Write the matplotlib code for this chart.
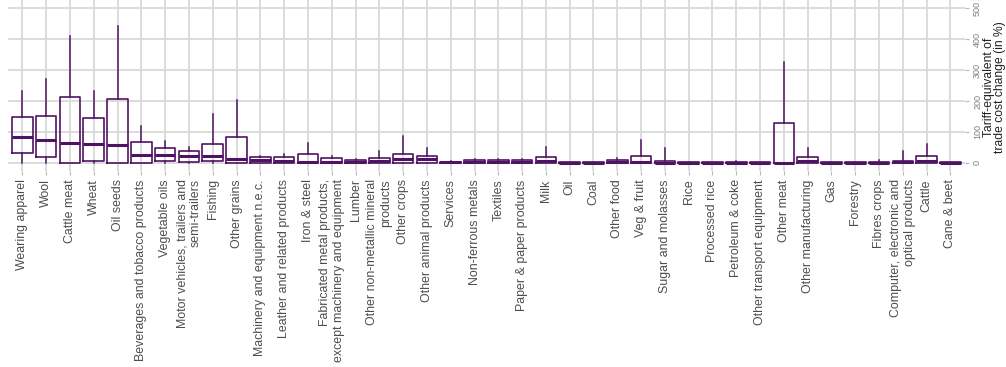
import matplotlib
matplotlib.use('agg')
import matplotlib.pyplot as plt
import numpy as np

plt.rcParams['font.family'] = ['Liberation Sans', 'DejaVu Sans']

sectors = ['Wearing apparel', 'Wool', 'Cattle meat', 'Wheat', 'Oil seeds',
           'Beverages and tobacco products', 'Vegetable oils',
           'Motor vehicles, trailers and\nsemi-trailers', 'Fishing', 'Other grains',
           'Machinery and equipment n.e.c.', 'Leather and related products',
           'Iron & steel',
           'Fabricated metal products,\nexcept machinery and equipment',
           'Lumber', 'Other non-metallic mineral\nproducts', 'Other crops',
           'Other animal products', 'Services', 'Non-ferrous metals', 'Textiles',
           'Paper & paper products', 'Milk', 'Oil', 'Coal', 'Other food',
           'Veg & fruit', 'Sugar and molasses', 'Rice', 'Processed rice',
           'Petroleum & coke', 'Other transport equipment', 'Other meat',
           'Other manufacturing', 'Gas', 'Forestry', 'Fibres crops',
           'Computer, electronic and\noptical products', 'Cattle', 'Cane & beet']

# box stats (in %)
w_low = [0, 0, 0, 0, 0, 0, 0, 0, 0, 0,
         0, 0, 0, 0, 0, 0, 0, 0, 0, 0,
         0, 0, 0, 0, 0, 0, 0, 0, 0, 0,
         0, 0, 0, 0, 0, 0, 0, 0, 0, 0]
q1 = [31, 20, 0, 5, 0, 0, 7, 4, 6, 0,
      1, 0, 0, 0, 0, 0, 0, 0, 0, 0,
      0, 0, 0, 0, 0, 0, 0, 0, 0, 0,
      0, 0, 0, 0, 0, 0, 0, 0, 0, 0]
med = [85, 74, 63, 61, 59, 26, 26, 23, 22, 14,
       10, 6, 4, 4, 3, 7, 12, 12, 2, 3,
       3, 3, 7, 1, 1, 3, 4, 1, 1, 1,
       1, 1, 1, 6, 1, 1, 1, 2, 5, 1]
q3 = [147, 153, 214, 146, 207, 68, 49, 40, 62, 85,
      18, 20, 28, 15, 9, 17, 29, 24, 4, 9,
      8, 8, 18, 3, 2, 8, 22, 5, 3, 2,
      4, 2, 130, 20, 2, 2, 2, 5, 23, 2]
w_high = [233, 271, 410, 232, 442, 120, 72, 53, 157, 203,
          21, 29, 63, 24, 13, 40, 87, 47, 6, 13,
          13, 12, 53, 4, 4, 16, 74, 49, 4, 2,
          6, 2, 325, 47, 2, 2, 8, 39, 61, 2]

purple = '#4f1363'
grid_c = '#d9d9d9'

fig = plt.figure(figsize=(10.06, 3.67), dpi=100)
ax = fig.add_axes([0.008, 0.534, 0.951, 0.466])

x = np.arange(len(sectors))
stats = []
for i in range(len(sectors)):
    stats.append({'whislo': w_low[i], 'q1': q1[i], 'med': med[i],
                  'q3': q3[i], 'whishi': w_high[i], 'fliers': []})

ax.bxp(stats, positions=x, widths=0.86, showcaps=False, patch_artist=False,
       boxprops=dict(color=purple, linewidth=1.2),
       whiskerprops=dict(color=purple, linewidth=1.1),
       medianprops=dict(color=purple, linewidth=2.2))

ax.set_xlim(-0.6, 39.6)
ax.set_ylim(-26, 526)
ax.set_yticks([0, 100, 200, 300, 400, 500])
ax.grid(True, color=grid_c, linewidth=1.3)
ax.set_axisbelow(True)
for s in ax.spines.values():
    s.set_visible(False)

ax.set_xticks(x)
ax.set_xticklabels(sectors, rotation=90, ha='center', va='top',
                   multialignment='right', fontsize=8.9, color='#4d4d4d')
ax.tick_params(axis='x', length=3, color='#bbbbbb', pad=3)

ax.yaxis.tick_right()
ax.tick_params(axis='y', length=3, color='#bbbbbb', labelsize=6.5,
               labelcolor='#7f7f7f', pad=3)
for lab in ax.get_yticklabels():
    lab.set_rotation(90)
    lab.set_va('center')
fig.text(0.9885, 0.762, 'Tariff-equivalent of\ntrade cost change (in %)',
         fontsize=8.7, color='#222222', rotation=90, ha='center', va='center',
         multialignment='center', linespacing=0.95)

fig.savefig('out.png', dpi=100)
